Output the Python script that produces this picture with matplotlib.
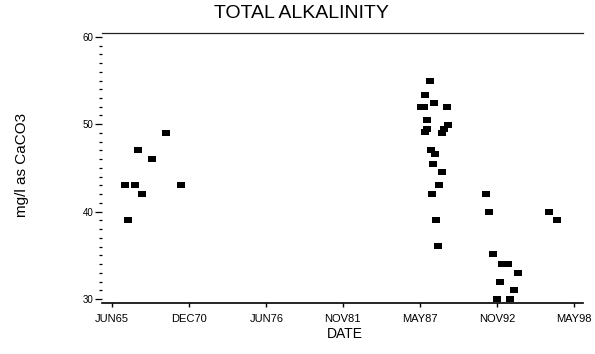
import matplotlib
matplotlib.use("Agg")
import matplotlib.pyplot as plt
from matplotlib.ticker import FixedLocator, MultipleLocator

plt.rcParams['font.family'] = ['Liberation Sans', 'DejaVu Sans']

# Sample dates (decimal years) and total alkalinity (mg/l as CaCO3)
dates = [
    1966.34, 1966.53, 1967.05, 1967.29, 1967.57, 1968.28, 1969.26, 1970.30,
    1987.44, 1987.62, 1987.69, 1988.05, 1988.36, 1989.28, 1987.86, 1987.83,
    1987.69, 1989.31, 1989.07, 1988.88, 1988.10, 1988.45, 1988.28, 1988.88,
    1988.71, 1988.17, 1988.52, 1988.64,
    1992.03, 1992.27, 1992.51, 1993.18, 1993.60, 1994.29, 1993.03, 1994.05,
    1992.84, 1993.77, 1996.54, 1997.07,
]
alkalinity = [
    43, 39, 43, 47, 42, 46, 49, 43,
    52, 52, 53.4, 54.9, 52.4, 52, 50.5, 49.45,
    49.1, 49.9, 49.5, 49.0, 47.1, 46.6, 45.5, 44.5,
    43.0, 42.0, 39.0, 36.1,
    42, 40, 35.2, 34, 34, 33, 32, 31,
    30, 30, 40, 39,
]

tick_dates = [1965.417, 1970.917, 1976.417, 1981.833, 1987.333, 1992.833, 1998.333]
tick_labels = ["JUN65", "DEC70", "JUN76", "NOV81", "MAY87", "NOV92", "MAY98"]
y_major = [30, 40, 50, 60]

fig = plt.figure(figsize=(5.95, 3.54), dpi=100)
ax = fig.add_axes([0.172, 0.145, 0.808, 0.761])

rect = [(-1.3, -1), (1.3, -1), (1.3, 1), (-1.3, 1), (-1.3, -1)]
ax.plot(dates, alkalinity, linestyle='none', marker=rect, markersize=5.2,
        color='black', markeredgewidth=0, clip_on=False)

ax.set_xlim(1964.73, 1998.96)
ax.set_ylim(29.6, 60.4)

ax.spines['left'].set_visible(False)
ax.spines['right'].set_visible(False)
ax.spines['top'].set_linewidth(0.9)
ax.spines['top'].set_color('#222222')
ax.spines['bottom'].set_linewidth(1.2)

ax.xaxis.set_major_locator(FixedLocator(tick_dates))
ax.set_xticklabels(tick_labels)
ax.yaxis.set_major_locator(FixedLocator(y_major))
ax.yaxis.set_minor_locator(MultipleLocator(1))
ax.set_yticklabels([str(v) for v in y_major])

ax.tick_params(axis='x', direction='out', length=3, width=1, pad=5.5, labelsize=8)
ax.tick_params(axis='y', which='major', direction='out', length=4.8, width=0.9,
               pad=1.7, labelsize=7)
ax.tick_params(axis='y', which='minor', direction='out', length=2.4, width=0.9)

fig.text(301 / 595, 1 - 13 / 354, "TOTAL ALKALINITY", ha='center', va='center',
         fontsize=14)
fig.text(345 / 595, 1 - 334.5 / 354, "DATE", ha='center', va='center', fontsize=10)
fig.text(22 / 595, 1 - 165 / 354, "mg/l as CaCO3", ha='center', va='center',
         rotation=90, fontsize=11)

fig.savefig("out.png", dpi=100)
